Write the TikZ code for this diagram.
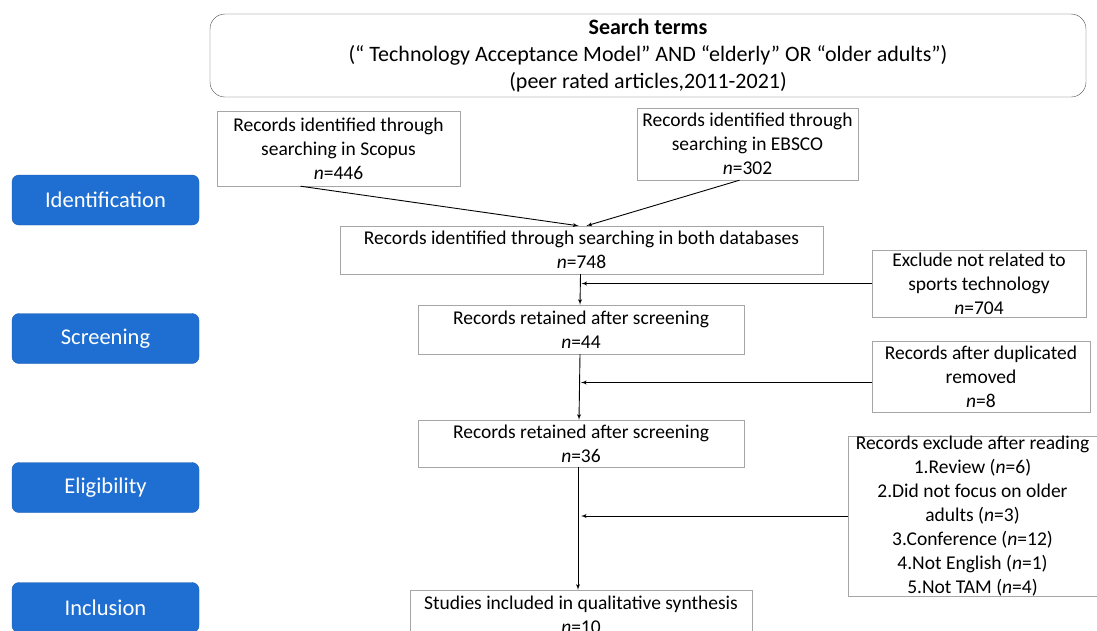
\documentclass[tikz,border=0pt]{standalone}
\usepackage{fontspec}
\setmainfont{Carlito}
\usetikzlibrary{arrows,positioning}
\definecolor{stageblue}{RGB}{31,110,210}
\tikzstyle{recbox}=[draw=black!35, fill=white, align=center, inner sep=0pt,
font=\fontsize{19.5}{24}\selectfont]
\tikzstyle{stage}=[draw=stageblue!85!black, fill=stageblue, rounded corners=7pt,
text=white, minimum width=187pt, minimum height=50pt, font=\fontsize{22.5}{24}\selectfont]
\tikzstyle{line}=[draw, line width=0.9pt, -latex']
\newcommand{\rec}[3]{node (p#1)[recbox,#2]{#3}}
\newcommand{\stage}[2]{node (s#1)[stage]{#2}}
\begin{document}
\begin{tikzpicture}[x=1pt,y=-1pt]
		\clip (0,0) rectangle (1097,630);
		\fill[white] (0,0) rectangle (1097,630);
		
		% Draw diagram elements
		\path (648,55.5) node (terms)[recbox, draw=black!70, rounded corners=15pt,
		minimum width=876pt, minimum height=83pt, font=\fontsize{22}{27}\selectfont]
		{\textbf{Search terms}\\(“ Technology Acceptance Model” AND “elderly” OR “older adults”)\\(peer rated articles,2011-2021)};
		
		\path (338.5,148.5) \rec{1}{minimum width=243pt, minimum height=75pt}{Records identified through\\searching in Scopus\\\textit{n}=446};
		\path (747.5,144) \rec{2}{minimum width=221pt, minimum height=72pt}{Records identified through\\searching in EBSCO\\\textit{n}=302};
		\path (581.5,250) \rec{3}{minimum width=483pt, minimum height=48pt}{Records identified through searching in both databases\\\textit{n}=748};
		\path (979,283.5) \rec{4}{minimum width=214pt, minimum height=67pt}{Exclude not related to\\sports technology\\\textit{n}=704};
		\path (581,329.5) \rec{5}{minimum width=326pt, minimum height=49pt}{Records retained after screening\\\textit{n}=44};
		\path (981,376.5) \rec{6}{minimum width=218pt, minimum height=71pt}{Records after duplicated\\removed\\\textit{n}=8};
		\path (581,443.5) \rec{7}{minimum width=326pt, minimum height=47pt}{Records retained after screening\\\textit{n}=36};
		\path (972.5,516) \rec{8}{minimum width=249pt, minimum height=160pt}{Records exclude after reading\\1.Review (\textit{n}=6)\\2.Did not focus on older\\adults (\textit{n}=3)\\3.Conference\ (\textit{n}=12)\\4.Not English (\textit{n}=1)\\5.Not TAM (\textit{n}=4)};
		\path (581,615) \rec{9}{minimum width=342pt, minimum height=50pt}{Studies included in qualitative synthesis\\\textit{n}=10};
		
		\path (105.5,200) \stage{1}{Identification};
		\path (105.5,338.5) \stage{2}{Screening};
		\path (105.5,487.5) \stage{3}{Eligibility};
		\path (105.5,607.5) \stage{4}{Inclusion};
		
		% Draw arrows between elements
		\path [line] ([xshift=-38pt]p1.south) -- ([xshift=-3pt]p3.north);
		\path [line] ([xshift=-8pt]p2.south) -- ([xshift=5pt]p3.north);
		\path [line] ([xshift=-1pt]p3.south) -- ([xshift=-1pt]p5.north);
		\path [line] (p4.west) -- (p4.west -| p3.south);
		\path [line] ([xshift=-1pt]p5.south) -- ([xshift=-2pt]p7.north);
		\path [line] ([yshift=-6pt]p6.west) -- ([yshift=-6pt]p6.west -| p5.south);
		\path [line] ([xshift=-3pt]p7.south) -- ([xshift=-3pt]p9.north);
		\path [line] (p8.west) -- (p8.west -| p7.south);
\end{tikzpicture}
\end{document}
